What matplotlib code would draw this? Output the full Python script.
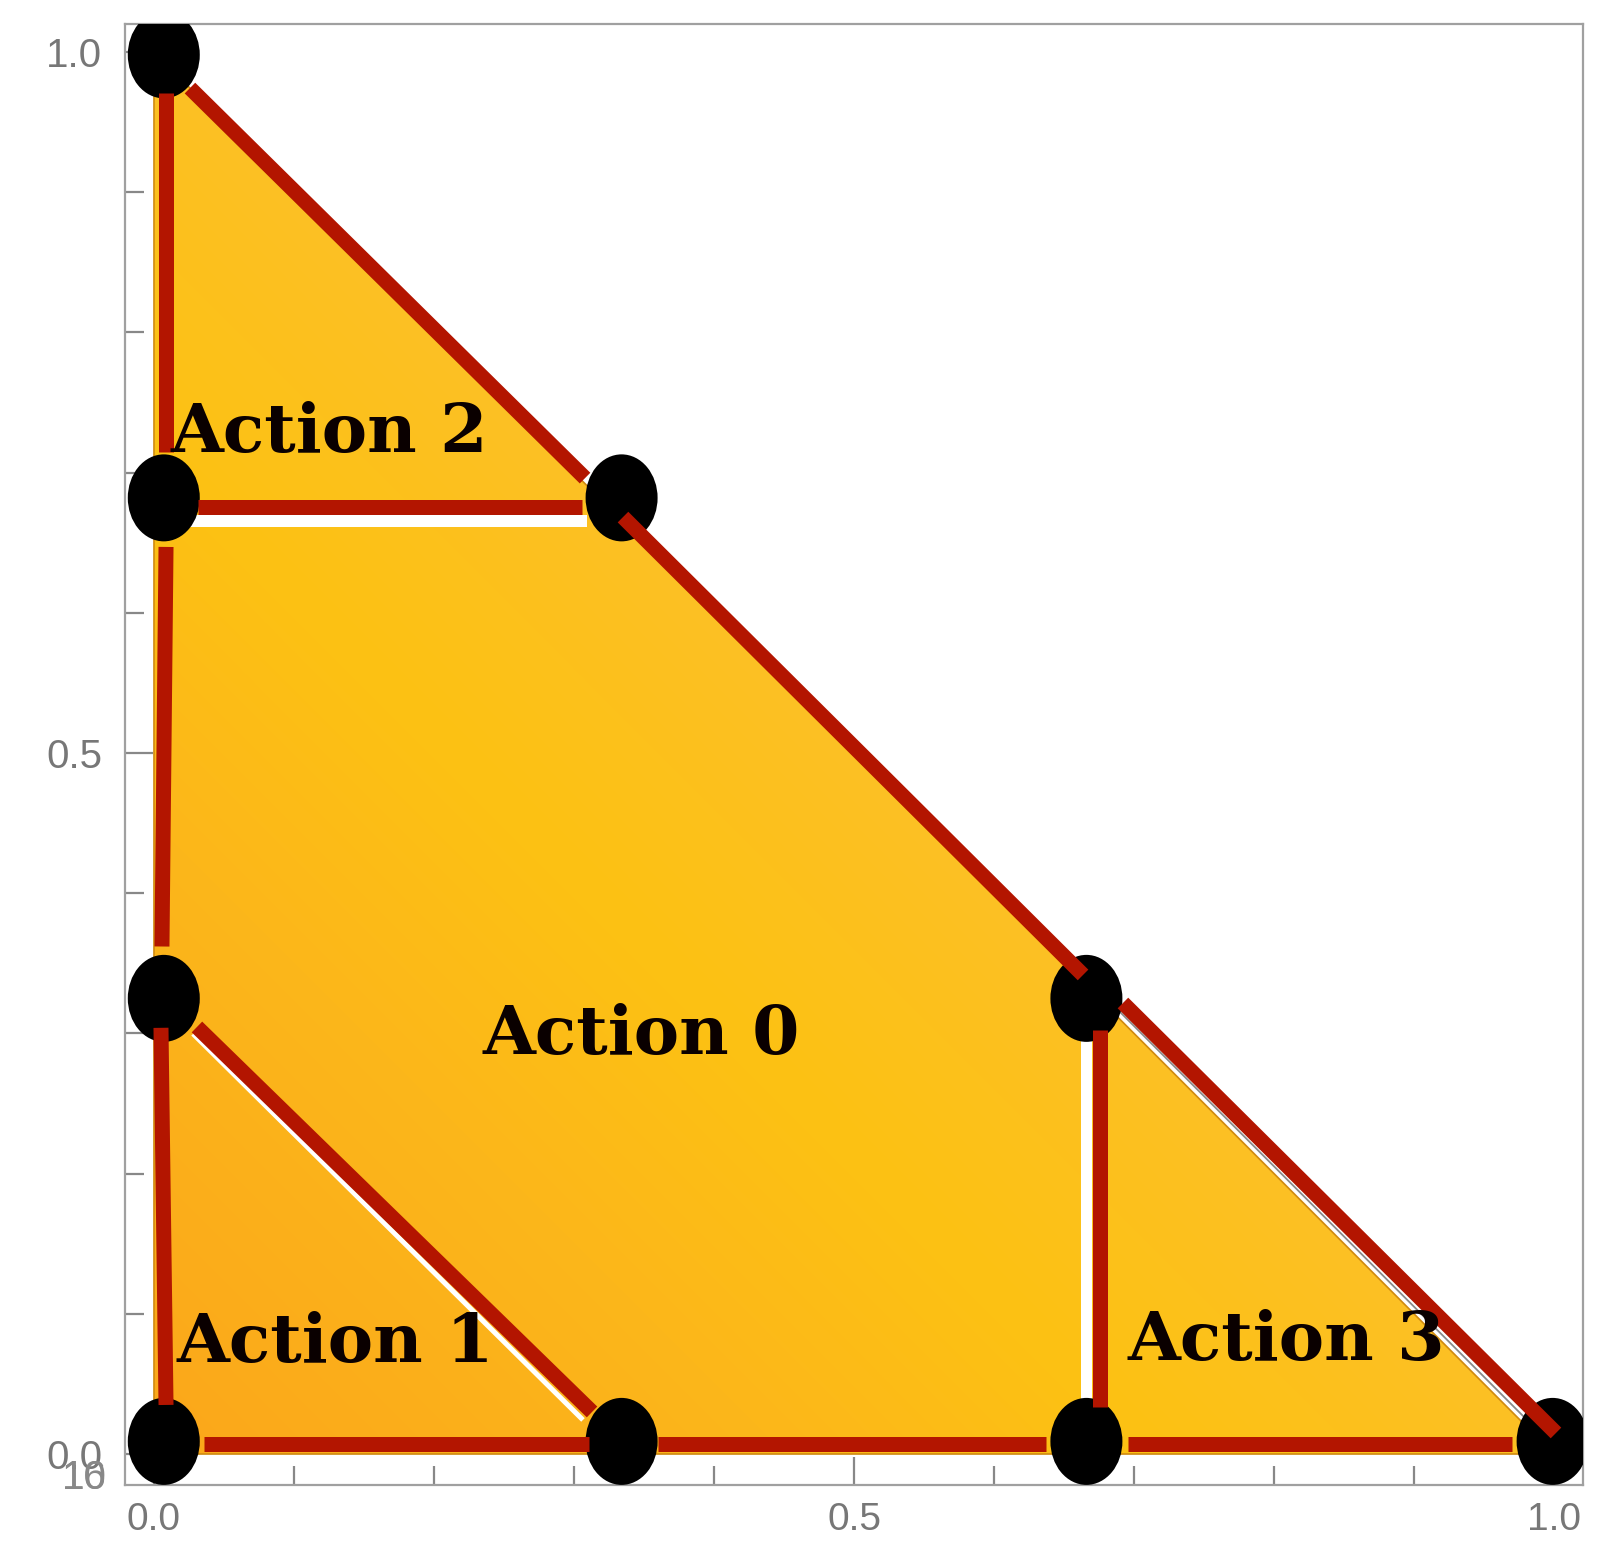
import numpy as np
import matplotlib
matplotlib.use('Agg')
import matplotlib.pyplot as plt
from matplotlib.patches import Ellipse, Polygon
from matplotlib.colors import LinearSegmentedColormap

# black vertex dots of the partition
node_x = [0.007, 0.007, 0.334, 0.007, 0.007, 0.334, 0.666, 0.666, 0.999]
node_y = [0.998, 0.682, 0.682, 0.325, 0.009, 0.009, 0.325, 0.009, 0.009]

# red region boundaries (x0, y0, x1, y1)
red_segments = [
    (0.0089, 0.971, 0.0089, 0.715),
    (0.0086, 0.647, 0.0057, 0.362),
    (0.0050, 0.304, 0.0086, 0.035),
    (0.0257, 0.9743, 0.3079, 0.6961),
    (0.3350, 0.6683, 0.6636, 0.3417),
    (0.6921, 0.3217, 1.0014, 0.0150),
    (0.0314, 0.6755, 0.3057, 0.6755),
    (0.0307, 0.3046, 0.3129, 0.0300),
    (0.6757, 0.3024, 0.6757, 0.0335),
    (0.036, 0.007, 0.311, 0.007),
    (0.360, 0.007, 0.637, 0.007),
    (0.696, 0.007, 0.970, 0.007),
]

# white gaps left between pasted regions (x0, y0, x1, y1, width px)
white_gaps = [
    (0.020, 0.6655, 0.309, 0.6655, 12),
    (0.666, 0.302, 0.666, 0.039, 11),
    (0.0279, 0.2997, 0.3064, 0.0243, 5),
    (0.6921, 0.3174, 0.9807, 0.0285, 5),
]
gray_edge = (0.690, 0.3153, 0.9786, 0.0264)

labels = ['Action 2', 'Action 0', 'Action 1', 'Action 3']
label_x = [0.012, 0.2343, 0.0164, 0.6957]
label_y = [0.7147, 0.2853, 0.0656, 0.067]

simplex = [(0, 0), (1, 0), (0, 1)]

PX = 0.72  # points per pixel at dpi 100

fig = plt.figure(figsize=(16.13, 15.46), dpi=100)
ax = fig.add_axes([125 / 1613, 1 - 1485 / 1546, (1583 - 125) / 1613, (1485 - 24) / 1546])
ax.set_xlim(-0.0207, 1.0207)
ax.set_ylim(-0.0221, 1.02)

# gradient fill of the simplex
cmap = LinearSegmentedColormap.from_list(
    'fill', [(0.0, '#FBA71A'), (0.45, '#FCB71A'), (0.72, '#FDC213'), (1.0, '#FCC024')])
gx, gy = np.meshgrid(np.linspace(0, 1, 400), np.linspace(0, 1, 400))
tri = Polygon(simplex, closed=True, facecolor='none', edgecolor='#D08A10', lw=1.2, zorder=2)
ax.add_patch(tri)
im = ax.imshow(gx + gy, extent=[0, 1, 0, 1], origin='lower', cmap=cmap,
               vmin=0, vmax=1, interpolation='bilinear', zorder=1, aspect='auto')
im.set_clip_path(tri)

for x0, y0, x1, y1, w in white_gaps:
    ax.plot([x0, x1], [y0, y1], color='white', lw=w * PX, solid_capstyle='butt', zorder=3)
ax.plot([gray_edge[0], gray_edge[2]], [gray_edge[1], gray_edge[3]],
        color='#8a8a8a', lw=1.3, zorder=3)

for xv, yv in zip(node_x, node_y):
    ax.add_patch(Ellipse((xv, yv), 72 / 1400, 87 / 1402, facecolor='black',
                         edgecolor='none', zorder=4))

for x0, y0, x1, y1 in red_segments:
    ax.plot([x0, x1], [y0, y1], color='#B31500', lw=15 * PX,
            solid_capstyle='butt', zorder=5)

for txt, tx, ty in zip(labels, label_x, label_y):
    ax.text(tx, ty, txt, family='DejaVu Serif', fontweight='bold', fontsize=49,
            color='#0a0000', ha='left', va='baseline', zorder=6)

# frame and ticks
for s in ax.spines.values():
    s.set_color('#a0a0a0')
    s.set_linewidth(1.6)
ax.set_xticks([0.0, 0.5, 1.0])
ax.set_yticks([0.0, 0.5, 1.0])
ax.set_xticks(np.arange(0.1, 1.0, 0.1), minor=True)
ax.set_yticks(np.arange(0.1, 1.0, 0.1), minor=True)
ax.set_xticklabels(['0.0', '0.5', '1.0'])
ax.set_yticklabels(['0.0', '0.5', '1.0'])
ax.tick_params(which='both', direction='in', top=False, right=False,
               color='#888888', width=1.6)
ax.tick_params(which='major', length=20)
ax.tick_params(which='minor', length=13.5)
ax.tick_params(axis='x', which='major', pad=12, labelsize=28, labelcolor='#777777')
ax.tick_params(axis='y', which='major', pad=16.5, labelsize=29, labelcolor='#777777')
for lab in ax.get_xticklabels() + ax.get_yticklabels():
    lab.set_family('Liberation Sans')

# stray overlapping labels near the origin
for t in ['10', '16']:
    fig.text(107 / 1613, 1 - 1478 / 1546, t, ha='right', va='center',
             fontsize=29, color='#888888', family='Liberation Sans')

fig.savefig('out.png', dpi=100)
